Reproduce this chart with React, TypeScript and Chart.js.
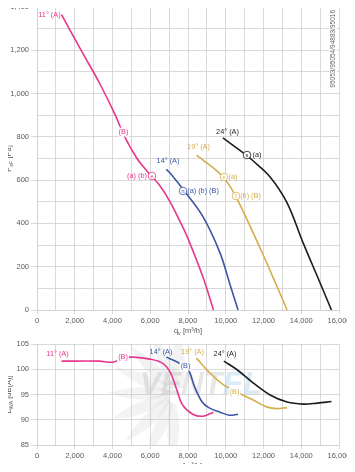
import React, { useEffect, useRef } from 'react';
import { Chart, registerables } from 'chart.js';
Chart.register(...registerables);

const FONT = '"Liberation Sans", Arial, Helvetica, sans-serif';
const GRID = '#cfcfcf';
const TICK = '#5a5a5a';
const PINK = '#e6378d';
const BLUE = '#3c56a6';
const GOLD = '#d4ae4c';
const BLACK = '#1c1c1c';

// ---- Top chart: pressure curves (q_v m3/h, P_sF Pa)
const p11X = [1300, 2400, 3300, 4100, 4650, 5300, 5800, 6500, 7050, 7600, 8000, 8800, 9350];
const p11Y = [1365, 1190, 1050, 910, 800, 700, 645, 575, 500, 405, 330, 150, 0];
const p14X = [6850, 7050, 7850, 8800, 9700, 10200, 10650];
const p14Y = [650, 633, 545, 430, 263, 125, 0];
const p19X = [8450, 8800, 9800, 10500, 11800, 12500, 13250];
const p19Y = [715, 693, 620, 530, 290, 152, 0];
const p24X = [9850, 11100, 11400, 12350, 13250, 14100, 15000, 15600];
const p24Y = [795, 715, 693, 615, 495, 310, 125, 0];

// ---- Bottom chart: sound power (q_v m3/h, L_WA dB(A))
const l11X = [1300, 3300, 4000, 4550, 5100, 6000, 6650, 7050, 7400, 7700, 8250, 8800, 9350];
const l11Y = [101.6, 101.6, 101.4, 102.2, 102.4, 102.0, 101.2, 99.5, 96.0, 93.0, 91.1, 90.7, 91.5];
const l14X = [6850, 7500, 8000, 8350, 8750, 9100, 9700, 10200, 10650];
const l14Y = [102.4, 101.3, 100.0, 96.5, 93.5, 92.4, 91.5, 90.9, 91.1];
const l19X = [8450, 9150, 9850, 10600, 11450, 12200, 12700, 13250];
const l19Y = [102.2, 99.3, 97.0, 95.5, 93.9, 92.5, 92.2, 92.4];
const l24X = [9900, 10600, 11450, 12350, 13250, 14100, 14850, 15600];
const l24Y = [101.6, 99.9, 97.3, 94.9, 93.5, 93.1, 93.3, 93.6];

// ---- Annotations (data coordinates)
const topLabelText = ['11° (A)', '(B)', '(a) (b)', '14° (A)', '(a) (b) (B)', '19° (A)', '(a)', '(b) (B)', '24° (A)', '(a)'];
const topLabelX = [660, 4580, 5300, 6940, 8795, 8556, 10384, 11311, 10093, 11655];
const topLabelY = [1363, 822, 619, 688, 550, 753, 614, 527, 822, 716];
const topLabelSeries = [0, 0, 0, 1, 1, 2, 2, 2, 3, 3];
const topLabelOnCurve = [false, true, false, false, false, false, false, false, false, false];

const topMarkX = [6093, 7735, 9907, 10543, 11125];
const topMarkY = [619, 550, 614, 527, 716];
const topMarkLetter = ['e', 'n', 'e', 'f', 's'];
const topMarkSeries = [0, 1, 2, 2, 3];

const botLabelText = ['11° (A)', '(B)', '14° (A)', '(B)', '19° (A)', '24° (A)', '(B)'];
const botLabelX = [1086, 4556, 6570, 7868, 8238, 9960, 10464];
const botLabelY = [103.0, 102.4, 103.4, 100.6, 103.4, 103.0, 95.5];
const botLabelSeries = [0, 0, 1, 1, 2, 3, 2];
const botLabelOnCurve = [false, true, false, true, false, false, true];

const xTicks = [0, 2000, 4000, 6000, 8000, 10000, 12000, 14000, 16000];
const topYTicks = [0, 200, 400, 600, 800, 1000, 1200, 1400];
const botYTicks = [85, 90, 95, 100, 105];
const codeText = '95053/95054/94883/95016';

const COLORS = [PINK, BLUE, GOLD, BLACK];

function pts(xs: number[], ys: number[]) {
  return xs.map((x, i) => ({ x, y: ys[i] }));
}

function ds(xs: number[], ys: number[], color: string) {
  return {
    data: pts(xs, ys),
    borderColor: color,
    backgroundColor: color,
    borderWidth: 1.6,
    pointRadius: 0,
    tension: 0.35,
    fill: false,
  };
}

function drawSubTitle(ctx: CanvasRenderingContext2D, parts: [string, boolean][], cx: number, cy: number, rotate: boolean) {
  ctx.save();
  ctx.translate(cx, cy);
  if (rotate) ctx.rotate(-Math.PI / 2);
  ctx.fillStyle = TICK;
  ctx.textBaseline = 'alphabetic';
  ctx.textAlign = 'left';
  let total = 0;
  for (const [t, sub] of parts) {
    ctx.font = `${sub ? 5.5 : 7.5}px ${FONT}`;
    total += ctx.measureText(t).width;
  }
  let x = -total / 2;
  for (const [t, sub] of parts) {
    ctx.font = `${sub ? 5.5 : 7.5}px ${FONT}`;
    ctx.fillText(t, x, sub ? 4.5 : 2.5);
    x += ctx.measureText(t).width;
  }
  ctx.restore();
}

function drawLabel(ctx: CanvasRenderingContext2D, text: string, x: number, y: number, color: string, bg: boolean) {
  ctx.save();
  ctx.font = `7.3px ${FONT}`;
  const w = ctx.measureText(text).width;
  if (bg) {
    ctx.fillStyle = '#ffffff';
    ctx.fillRect(x - w / 2 - 1, y - 4.5, w + 2, 9);
  }
  ctx.fillStyle = color;
  ctx.textAlign = 'center';
  ctx.textBaseline = 'middle';
  ctx.fillText(text, x, y);
  ctx.restore();
}

function drawMark(ctx: CanvasRenderingContext2D, letter: string, x: number, y: number, color: string) {
  ctx.save();
  ctx.beginPath();
  ctx.arc(x, y, 3.8, 0, Math.PI * 2);
  ctx.fillStyle = '#ffffff';
  ctx.fill();
  ctx.lineWidth = 0.8;
  ctx.strokeStyle = color;
  ctx.stroke();
  ctx.fillStyle = color;
  ctx.font = `5.5px ${FONT}`;
  ctx.textAlign = 'center';
  ctx.textBaseline = 'middle';
  ctx.fillText(letter, x, y + 0.3);
  ctx.restore();
}

const topPlugin = {
  id: 'topDeco',
  afterDatasetsDraw(chart: any) {
    const ctx = chart.ctx as CanvasRenderingContext2D;
    const sx = chart.scales.x, sy = chart.scales.y;
    topLabelText.forEach((t, i) => {
      drawLabel(ctx, t, sx.getPixelForValue(topLabelX[i]), sy.getPixelForValue(topLabelY[i]), COLORS[topLabelSeries[i]], topLabelOnCurve[i]);
    });
    topMarkX.forEach((x, i) => {
      drawMark(ctx, topMarkLetter[i], sx.getPixelForValue(x), sy.getPixelForValue(topMarkY[i]), COLORS[topMarkSeries[i]]);
    });
    ctx.save();
    ctx.font = `6.5px ${FONT}`;
    const w = ctx.measureText(codeText).width;
    const cx = chart.chartArea.right - 6, cy = chart.chartArea.top + 3 + w / 2;
    ctx.fillStyle = '#ffffff';
    ctx.fillRect(cx - 4, cy - w / 2 - 1, 8, w + 2);
    ctx.translate(cx, cy);
    ctx.rotate(-Math.PI / 2);
    ctx.fillStyle = '#666';
    ctx.textAlign = 'center';
    ctx.textBaseline = 'middle';
    ctx.fillText(codeText, 0, 0);
    ctx.restore();
    const ca = chart.chartArea;
    drawSubTitle(ctx, [['q', false], ['v', true], [' [m³/h]', false]], (ca.left + ca.right) / 2, ca.bottom + 20, false);
    drawSubTitle(ctx, [['P', false], ['sF', true], [' [Pa]', false]], 8, (ca.top + ca.bottom) / 2, true);
  },
};

const botPlugin = {
  id: 'botDeco',
  beforeDatasetsDraw(chart: any) {
    const ctx = chart.ctx as CanvasRenderingContext2D;
    const ca = chart.chartArea;
    ctx.save();
    ctx.beginPath();
    ctx.rect(ca.left, ca.top, ca.right - ca.left, ca.bottom - ca.top);
    ctx.clip();
    const hx = ca.left + 140, hy = ca.top + 52;
    ctx.fillStyle = 'rgba(200,200,200,0.22)';
    for (let k = 0; k < 9; k++) {
      const a = (100 + k * 22) * Math.PI / 180;
      ctx.save();
      ctx.translate(hx, hy);
      ctx.rotate(a);
      ctx.beginPath();
      ctx.moveTo(8, 0);
      ctx.quadraticCurveTo(35, -14, 68, -6);
      ctx.quadraticCurveTo(40, 6, 8, 6);
      ctx.closePath();
      ctx.fill();
      ctx.restore();
    }
    ctx.font = `italic bold 31px ${FONT}`;
    ctx.textBaseline = 'alphabetic';
    ctx.textAlign = 'left';
    const base = ca.top + 50;
    const x0 = ca.left + 103;
    ctx.fillStyle = 'rgba(185,185,185,0.35)';
    ctx.fillText('VENT', x0, base);
    const w = ctx.measureText('VENT').width;
    ctx.fillStyle = 'rgba(150,200,235,0.35)';
    ctx.fillText('EL', x0 + w, base);
    ctx.restore();
  },
  afterDatasetsDraw(chart: any) {
    const ctx = chart.ctx as CanvasRenderingContext2D;
    const sx = chart.scales.x, sy = chart.scales.y;
    botLabelText.forEach((t, i) => {
      drawLabel(ctx, t, sx.getPixelForValue(botLabelX[i]), sy.getPixelForValue(botLabelY[i]), COLORS[botLabelSeries[i]], botLabelOnCurve[i]);
    });
    const ca = chart.chartArea;
    drawSubTitle(ctx, [['q', false], ['v', true], [' [m³/h]', false]], (ca.left + ca.right) / 2, ca.bottom + 20, false);
    drawSubTitle(ctx, [['L', false], ['WA', true], [' [dB(A)]', false]], 8, (ca.top + ca.bottom) / 2, true);
  },
};

function xScale(h: number) {
  return {
    type: 'linear' as const,
    min: 0,
    max: 16000,
    afterBuildTicks: (s: any) => { s.ticks = Array.from({ length: 17 }, (_, i) => ({ value: i * 1000 })); },
    afterFit: (s: any) => { s.height = h; },
    grid: {
      color: GRID,
      lineWidth: 0.8,
      tickLength: 4,
      tickColor: (c: any) => (c.tick && xTicks.includes(c.tick.value) ? GRID : 'rgba(0,0,0,0)'),
    },
    border: { color: GRID, width: 0.8 },
    ticks: {
      autoSkip: false,
      maxRotation: 0,
      padding: 2,
      color: TICK,
      font: { family: FONT, size: 7.5 },
      callback: (v: any) => (xTicks.includes(Number(v)) ? Number(v).toLocaleString('en-US') : ''),
    },
  };
}

function yScale(min: number, max: number, step: number, labelled: number[]) {
  return {
    type: 'linear' as const,
    min,
    max,
    afterBuildTicks: (s: any) => {
      const t = [];
      for (let v = min; v <= max + 1e-9; v += step) t.push({ value: v });
      s.ticks = t;
    },
    afterFit: (s: any) => { s.width = 37; },
    grid: {
      color: GRID,
      lineWidth: 0.8,
      tickLength: 6,
      tickColor: (c: any) => (c.tick && labelled.includes(c.tick.value) ? GRID : 'rgba(0,0,0,0)'),
    },
    border: { color: GRID, width: 0.8 },
    ticks: {
      autoSkip: false,
      padding: 2,
      color: TICK,
      font: { family: FONT, size: 7.5 },
      callback: (v: any) => (labelled.includes(Number(v)) ? Number(v).toLocaleString('en-US') : ''),
    },
  };
}

export default function App() {
  const topRef = useRef<HTMLCanvasElement>(null);
  const botRef = useRef<HTMLCanvasElement>(null);

  useEffect(() => {
    const top = new Chart(topRef.current!, {
      type: 'line',
      data: {
        datasets: [
          ds(p11X, p11Y, PINK),
          ds(p14X, p14Y, BLUE),
          ds(p19X, p19Y, GOLD),
          ds(p24X, p24Y, BLACK),
        ] as any,
      },
      options: {
        animation: false,
        responsive: false,
        maintainAspectRatio: false,
        devicePixelRatio: 1,
        layout: { padding: { top: 7, right: 16, left: 0, bottom: 0 } },
        plugins: { legend: { display: false }, tooltip: { enabled: false } },
        scales: { x: xScale(30), y: yScale(0, 1400, 100, topYTicks) } as any,
      },
      plugins: [topPlugin],
    });
    const bot = new Chart(botRef.current!, {
      type: 'line',
      data: {
        datasets: [
          ds(l11X, l11Y, PINK),
          ds(l14X, l14Y, BLUE),
          ds(l19X, l19Y, GOLD),
          ds(l24X, l24Y, BLACK),
        ] as any,
      },
      options: {
        animation: false,
        responsive: false,
        maintainAspectRatio: false,
        devicePixelRatio: 1,
        layout: { padding: { top: 8, right: 16, left: 0, bottom: 0 } },
        plugins: { legend: { display: false }, tooltip: { enabled: false } },
        scales: { x: xScale(27), y: yScale(85, 105, 5, botYTicks) } as any,
      },
      plugins: [botPlugin],
    });
    return () => {
      top.destroy();
      bot.destroy();
    };
  }, []);

  return (
    <div style={{ position: 'relative', width: 355, height: 472, margin: '-8px', background: '#fff' }}>
      <canvas ref={topRef} width={355} height={340} style={{ position: 'absolute', left: 0, top: 0, width: 355, height: 340 }} />
      <canvas ref={botRef} width={355} height={136} style={{ position: 'absolute', left: 0, top: 336, width: 355, height: 136 }} />
    </div>
  );
}
